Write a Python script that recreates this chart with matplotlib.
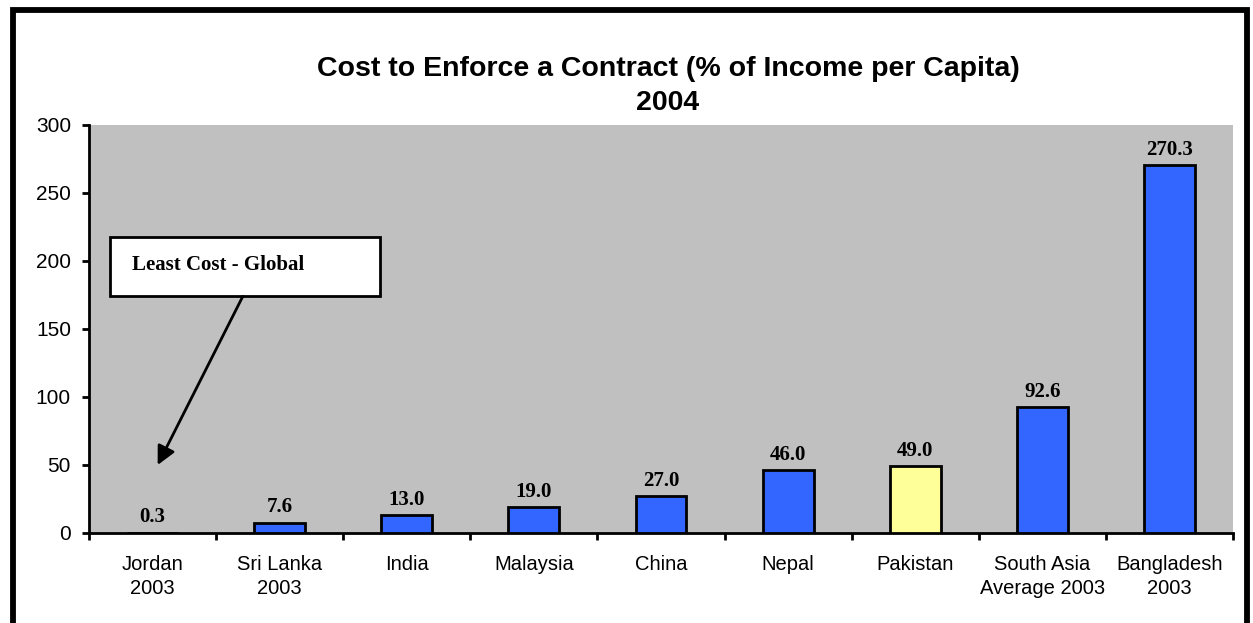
import matplotlib.pyplot as plt
from matplotlib.patches import Rectangle
import numpy as np

# Cost to enforce a contract, % of income per capita
countries = ["Jordan\n2003", "Sri Lanka\n2003", "India", "Malaysia", "China",
             "Nepal", "Pakistan", "South Asia\nAverage 2003", "Bangladesh\n2003"]
costs = [0.3, 7.6, 13.0, 19.0, 27.0, 46.0, 49.0, 92.6, 270.3]
highlight = "Pakistan"

BLUE = "#3366FF"
YELLOW = "#FFFF99"
SANS = "Liberation Sans"
SERIF = "Liberation Serif"

fig = plt.figure(figsize=(12.53, 6.23), dpi=100)
fig.patch.set_facecolor("white")

# thick outer frame
fig.patches.append(Rectangle((13 / 1253, -0.05), 1234 / 1253, 1.05 - 10.5 / 623,
                             transform=fig.transFigure, fill=False,
                             edgecolor="black", linewidth=4.2, zorder=0))

ax = fig.add_axes([89 / 1253, 1 - 533 / 623, 1144 / 1253, 408 / 623])
ax.set_facecolor("#C0C0C0")

x = np.arange(len(countries))
colors = [YELLOW if c == highlight else BLUE for c in countries]
bars = ax.bar(x, costs, width=0.4, color=colors, edgecolor="black",
              linewidth=2, zorder=3)

for xi, v in zip(x, costs):
    ax.annotate(f"{v:.1f}", (xi, v), xytext=(0, 4), textcoords="offset points",
                ha="center", va="bottom", fontsize=15, fontweight="bold",
                family=SERIF)

ax.set_xlim(-0.5, len(countries) - 0.5)
ax.set_ylim(0, 300)
ax.set_yticks(range(0, 301, 50))
ax.set_xticks(x)
ax.set_xticklabels(countries, family=SANS, fontsize=14.5, linespacing=1.3)
ax.set_xticks(np.arange(-0.5, len(countries)), minor=True)
ax.tick_params(axis="x", which="major", length=0, pad=16)
ax.tick_params(axis="x", which="minor", length=5, width=2, direction="out")
ax.tick_params(axis="y", length=5, width=2, direction="out", pad=8, labelsize=15)
for lbl in ax.get_yticklabels():
    lbl.set_family(SANS)

for side in ("top", "right"):
    ax.spines[side].set_visible(False)
for side in ("left", "bottom"):
    ax.spines[side].set_linewidth(2)

# callout box with arrow
ax.add_patch(Rectangle((-0.335, 174), 2.125, 43.5, facecolor="white",
                       edgecolor="black", linewidth=2, zorder=4))
ax.text(-0.16, 197, "Least Cost - Global", family=SERIF, fontsize=15,
        fontweight="bold", ha="left", va="center", zorder=5)
ax.annotate("", xy=(0.04, 50), xytext=(0.71, 174),
            arrowprops=dict(arrowstyle="-|>", color="black", lw=2,
                            mutation_scale=28, shrinkA=0, shrinkB=0), zorder=5)

fig.text(668 / 1253, 1 - 85.5 / 623,
         "Cost to Enforce a Contract (% of Income per Capita)\n2004",
         ha="center", va="center", family=SANS, fontsize=20.5,
         fontweight="bold", linespacing=1.4)

fig.savefig("out.png", dpi=100)
